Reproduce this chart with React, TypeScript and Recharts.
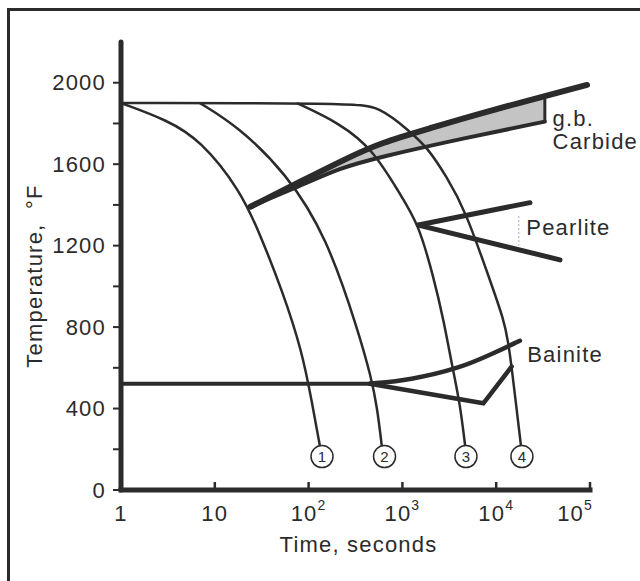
import React from 'react';
import { ComposedChart, Line, Area, XAxis, YAxis, ReferenceDot } from 'recharts';

const INK = '#2b2b2b';
const FONT = '"Liberation Sans", Arial, Helvetica, sans-serif';
const SPACING = 1.2;

// [time (s), temperature (°F)]
const curve1 = [[1, 1900], [3.1, 1817], [7, 1719], [18.6, 1473], [30, 1262], [53, 973], [85, 683], [109, 427], [132, 216]];
const curve2 = [[6.95, 1900], [17.8, 1784], [58, 1555], [156, 1244], [343, 773], [463, 555], [537, 409], [603, 216]];
const curve3 = [[75, 1900], [216, 1801], [490, 1670], [930, 1457], [1479, 1310], [2140, 1048], [2750, 835], [3400, 606], [4110, 426], [4700, 205]];
const curve4 = [[1, 1900], [275, 1900], [575, 1883], [1200, 1760], [1820, 1686], [2960, 1539], [4670, 1375], [8570, 1031], [12100, 835], [13500, 720], [14600, 606], [18500, 205]];

const carbideUpper = [[24, 1391], [81, 1514], [277, 1637], [575, 1703], [1960, 1776], [6700, 1850], [93000, 1989]];
const carbideLower = [[24, 1391], [81, 1493], [215, 1581], [575, 1635], [4470, 1727], [33000, 1809]];
const carbideEdge = [[33000, 1809], [33000, 1920]];
// [time, low, high]
const carbideBand = [[24, 1391, 1391], [81, 1493, 1514], [215, 1581, 1612], [575, 1635, 1703], [1960, 1690, 1776], [4470, 1727, 1825], [33000, 1809, 1934]];

const pearliteUpper = [[1479, 1301], [22900, 1411]];
const pearliteLower = [[1479, 1301], [47900, 1130]];
const pearliteMark = [[17378, 1345], [17378, 1200]];

const bainiteStart = [[1, 522], [450, 522]];
const bainiteUpper = [[450, 522], [1200, 540], [4100, 598], [9300, 671], [17900, 733]];
const bainiteLower = [[450, 522], [7300, 426], [14600, 606]];

const coolingLabels = ['1', '2', '3', '4'];
const coolingLabelTimes = [139, 645, 4760, 18800];
const coolingLabelTemp = 164;

const regionNames = ['g.b.', 'Carbide', 'Pearlite', 'Bainite'];
const regionAt = [[39811, 1827], [39811, 1714], [20893, 1292], [21380, 668]];

const xTicks = [1, 10, 100, 1000, 10000, 100000];
const yTicks = [0, 200, 400, 600, 800, 1000, 1200, 1400, 1600, 1800, 2000];

const pts = (a: number[][]) => a.map(([t, T]) => ({ t, T }));
const band = (a: number[][]) => a.map(([t, lo, hi]) => ({ t, range: [lo, hi] }));

const supers: Record<number, string> = { 100: '2', 1000: '3', 10000: '4', 100000: '5' };

const renderXTick = (props: any) => {
  const { x, y, payload } = props;
  const v = payload.value as number;
  const sup = supers[v];
  return (
    <g>
      {v > 1 && <line x1={x} x2={x} y1={y} y2={y - 8} stroke={INK} strokeWidth={2.5} />}
      <text
        x={v === 100000 ? x + 3 : x}
        y={y + 23}
        textAnchor={v === 100000 ? 'end' : 'middle'}
        dominantBaseline="central"
        fontSize={22}
        fontFamily={FONT}
        letterSpacing={SPACING}
        fill={INK}
      >
        {sup ? '10' : String(v)}
        {sup && (
          <tspan dy={-8} fontSize={14}>
            {sup}
          </tspan>
        )}
      </text>
    </g>
  );
};

const renderYTick = (props: any) => {
  const { x, y, payload } = props;
  if (payload.value % 400 !== 0) return <g />;
  return (
    <text
      x={x + 1}
      y={y}
      textAnchor="end"
      dominantBaseline="central"
      fontSize={22}
      fontFamily={FONT}
      letterSpacing={SPACING}
      fill={INK}
    >
      {payload.value}
    </text>
  );
};

const xTitle = (props: any) => {
  const vb = props.viewBox;
  return (
    <text
      x={vb.x + vb.width / 2 + 3}
      y={vb.y + 62}
      textAnchor="middle"
      fontSize={22}
      fontFamily={FONT}
      letterSpacing={SPACING}
      fill={INK}
    >
      Time, seconds
    </text>
  );
};

const yTitle = (props: any) => {
  const vb = props.viewBox;
  const cx = vb.x + 23;
  const cy = vb.y + vb.height / 2 + 10;
  return (
    <text
      x={cx}
      y={cy}
      transform={`rotate(-90, ${cx}, ${cy})`}
      textAnchor="middle"
      dominantBaseline="central"
      fontSize={22}
      fontFamily={FONT}
      letterSpacing={SPACING}
      fill={INK}
      style={{ whiteSpace: 'pre' }}
    >
      {'Temperature,  °F'}
    </text>
  );
};

// smooth B-spline through the read points, to even out reading noise
const thin = { stroke: INK, strokeWidth: 2.5, dot: false, isAnimationActive: false, type: 'basis' as const };

export default function App() {
  return (
    <div style={{ position: 'absolute', left: 0, top: 0, width: 640, height: 581, background: '#fff' }}>
      <div
        style={{
          position: 'absolute',
          left: 7,
          top: 8,
          width: 633,
          height: 573,
          borderTop: `3px solid ${INK}`,
          borderLeft: `3px solid ${INK}`,
          boxSizing: 'border-box',
        }}
      />
      <div style={{ position: 'absolute', left: 0, top: 0 }}>
        <ComposedChart width={640} height={581} margin={{ top: 42, right: 50, bottom: 27, left: 11 }}>
          <XAxis
            dataKey="t"
            type="number"
            scale="log"
            domain={[1, 100000]}
            ticks={xTicks}
            allowDataOverflow
            height={64}
            tickSize={0}
            tickMargin={0}
            tickLine={false}
            axisLine={{ stroke: INK, strokeWidth: 5, strokeLinecap: 'square' }}
            tick={renderXTick}
            label={xTitle}
          />
          <YAxis
            type="number"
            domain={[0, 2200]}
            ticks={yTicks}
            allowDataOverflow
            width={110}
            tickSize={8}
            tickMargin={8}
            tickLine={{ stroke: INK, strokeWidth: 2 }}
            axisLine={{ stroke: INK, strokeWidth: 5, strokeLinecap: 'round' }}
            tick={renderYTick}
            label={yTitle}
          />

          <Area
            data={band(carbideBand)}
            dataKey="range"
            type="basis"
            fill="#c4c4c4"
            fillOpacity={1}
            stroke="none"
            isAnimationActive={false}
          />

          <Line data={pts(curve1)} dataKey="T" {...thin} />
          <Line data={pts(curve2)} dataKey="T" {...thin} />
          <Line data={pts(curve3)} dataKey="T" {...thin} />
          <Line data={pts(curve4)} dataKey="T" {...thin} />

          <Line data={pts(carbideUpper)} dataKey="T" type="basis" stroke={INK} strokeWidth={6} strokeLinecap="round" dot={false} isAnimationActive={false} />
          <Line data={pts(carbideLower)} dataKey="T" type="basis" stroke={INK} strokeWidth={4} strokeLinecap="round" dot={false} isAnimationActive={false} />
          <Line data={pts(carbideEdge)} dataKey="T" type="linear" stroke={INK} strokeWidth={3} dot={false} isAnimationActive={false} />

          <Line data={pts(pearliteUpper)} dataKey="T" type="linear" stroke={INK} strokeWidth={5} strokeLinecap="round" dot={false} isAnimationActive={false} />
          <Line data={pts(pearliteLower)} dataKey="T" type="linear" stroke={INK} strokeWidth={5} strokeLinecap="round" dot={false} isAnimationActive={false} />
          <Line data={pts(pearliteMark)} dataKey="T" type="linear" stroke="#c8c8c8" strokeWidth={1.5} strokeDasharray="2 2" dot={false} isAnimationActive={false} />

          <Line data={pts(bainiteStart)} dataKey="T" type="linear" stroke={INK} strokeWidth={4} dot={false} isAnimationActive={false} />
          <Line data={pts(bainiteUpper)} dataKey="T" type="basis" stroke={INK} strokeWidth={4.5} strokeLinecap="round" dot={false} isAnimationActive={false} />
          <Line data={pts(bainiteLower)} dataKey="T" type="linear" stroke={INK} strokeWidth={4.5} strokeLinejoin="miter" strokeLinecap="round" dot={false} isAnimationActive={false} />

          {coolingLabels.map((lbl, i) => (
            <ReferenceDot
              key={lbl}
              x={coolingLabelTimes[i]}
              y={coolingLabelTemp}
              r={11}
              fill="#fff"
              stroke={INK}
              strokeWidth={1.5}
              ifOverflow="visible"
              label={{ value: lbl, position: 'center', fontSize: 15, fill: INK, fontFamily: FONT }}
            />
          ))}

          {regionNames.map((name, i) => (
            <ReferenceDot
              key={name}
              x={regionAt[i][0]}
              y={regionAt[i][1]}
              r={0.1}
              fill="none"
              stroke="none"
              ifOverflow="visible"
              label={{ value: name, position: 'right', offset: 0, fontSize: 22, fill: INK, fontFamily: FONT, letterSpacing: SPACING }}
            />
          ))}
        </ComposedChart>
      </div>
    </div>
  );
}
